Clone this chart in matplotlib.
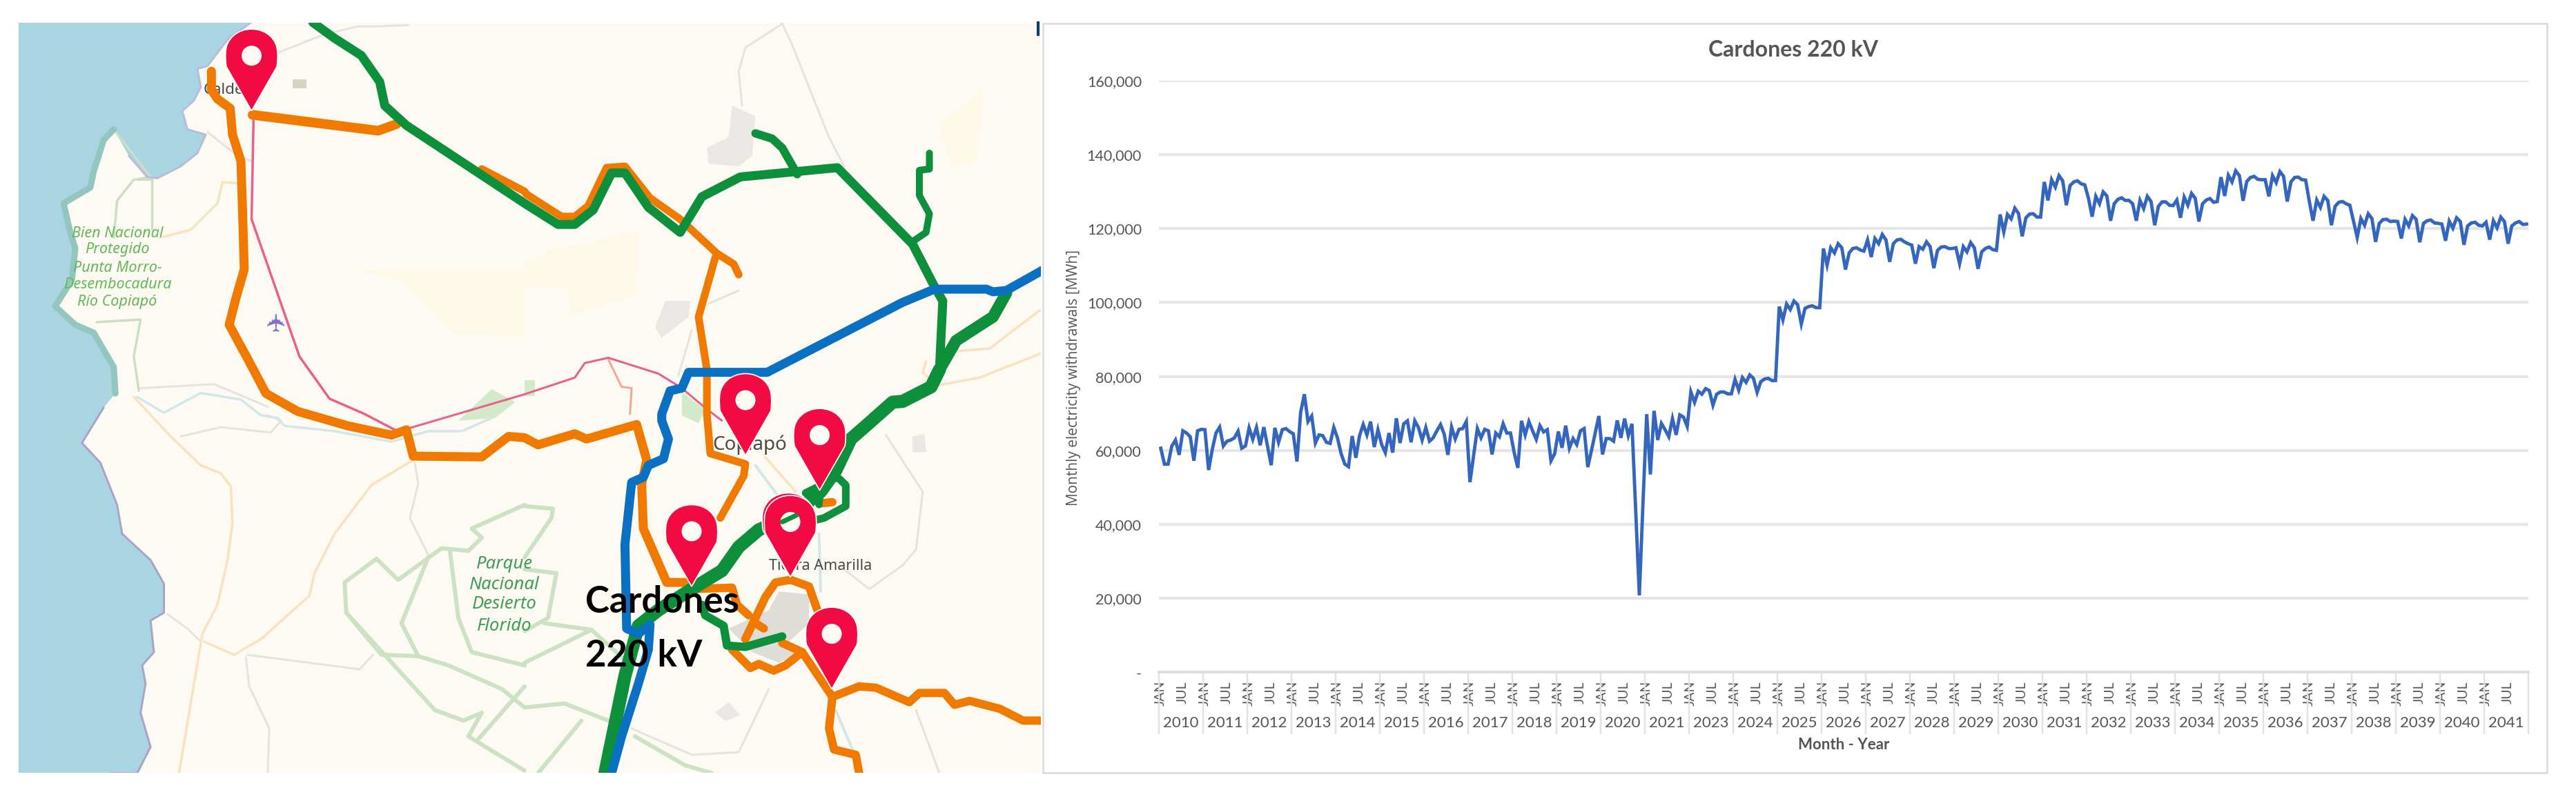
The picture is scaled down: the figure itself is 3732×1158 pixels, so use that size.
import numpy as np
import matplotlib
matplotlib.use("Agg")
import matplotlib.pyplot as plt
from matplotlib.patches import Polygon, Rectangle, PathPatch, Circle
from matplotlib.path import Path
from matplotlib.ticker import FixedLocator, FixedFormatter

# ---------- chart data (MWh, thousands) ----------
years = [2010,2011,2012,2013,2014,2015,2016,2017,2018,2019,2020,2021,2023,2024,2025,2026,
         2027,2028,2029,2030,2031,2032,2033,2034,2035,2036,2037,2038,2039,2040,2041]
v2010 = [60.6,56.3,56.3,61.2,62.8,58.8,65.3,64.7,63.7,57.2,65.3,65.7]
v2011 = [65.6,54.7,60.3,64.7,66.3,61.2,62.5,62.8,63.4,65.2,60.6,61.2]
v2012 = [66.1,63.0,66.2,61.4,66.3,61.2,56.0,66.1,62.2,65.6,65.9,65.1]
v2013 = [64.5,57.0,70.3,75.2,67.8,69.3,62.0,64.2,64.0,62.2,61.9,66.2]
v2014 = [63.4,59.1,56.3,55.6,63.9,58.0,64.0,67.0,64.2,67.8,60.9,65.6]
v2015 = [61.6,59.4,64.7,59.4,68.7,62.0,67.2,68.0,62.2,68.0,66.2,62.8]
v2016 = [66.2,62.5,63.4,65.3,67.0,64.4,58.8,66.3,63.1,65.7,65.9,67.8]
v2017 = [51.4,58.8,65.9,63.4,65.7,65.3,58.9,64.7,63.7,67.2,64.7,64.7]
v2018 = [59.4,55.3,68.0,64.2,67.8,65.3,63.0,66.7,65.0,65.6,57.2,59.1]
v2019 = [65.1,60.7,66.7,60.6,63.2,61.6,65.3,65.9,55.5,60.0,64.7,69.3]
v2020 = [58.9,63.2,63.2,62.5,68.1,63.4,68.6,64.0,67.2,44.0,20.8,46.0]
v2021 = [69.8,53.5,70.7,62.8,67.3,65.6,63.7,68.6,64.2,69.6,69.0,66.5]
v2023 = [75.8,73.0,76.0,75.2,76.7,76.2,72.2,75.2,75.8,75.8,75.3,75.3]
v2024 = [79.2,76.3,79.7,78.4,80.4,79.5,75.7,78.6,79.3,79.5,78.9,78.9]
v2025 = [98.9,95.3,99.6,98.1,100.4,99.4,94.2,98.4,98.9,99.1,98.6,98.6]
v2026 = [114.6,110.1,114.8,113.4,115.9,114.8,108.9,113.4,114.6,114.8,114.2,113.9]
v2027 = [116.9,112.3,117.3,115.9,118.4,116.9,111.0,115.9,116.9,117.1,116.4,115.9]
v2028 = [115.5,110.5,115.1,114.4,116.4,115.1,109.3,114.1,115.0,115.1,114.6,114.6]
v2029 = [114.8,110.5,115.1,113.7,116.2,114.8,109.1,113.7,114.6,115.0,114.3,114.1]
v2030 = [123.8,119.1,123.8,122.6,125.5,124.1,117.9,122.9,123.9,124.0,123.1,123.1]
v2031 = [132.6,127.6,133.2,131.2,134.3,132.9,126.3,131.6,132.6,132.9,132.1,131.8]
v2032 = [128.2,123.2,128.7,126.7,129.9,128.8,122.1,126.7,127.9,128.3,127.6,127.6]
v2033 = [126.7,122.1,127.6,125.4,128.7,127.3,120.9,126.0,127.2,127.2,126.3,126.2]
v2034 = [127.7,122.9,128.5,126.3,129.5,128.2,121.9,126.7,127.7,128.1,127.1,127.3]
v2035 = [133.9,128.8,134.4,132.6,135.6,134.3,127.5,132.7,133.8,134.1,133.3,133.2]
v2036 = [133.2,128.7,134.3,132.4,135.4,134.1,127.3,132.6,133.8,133.9,133.2,133.1]
v2037 = [127.3,122.1,127.7,125.7,128.7,127.6,120.9,126.0,127.1,127.3,126.7,126.3]
v2038 = [122.0,117.6,122.7,120.9,124.0,122.7,116.4,121.4,122.4,122.5,121.9,122.0]
v2039 = [121.9,117.3,122.5,120.7,123.5,122.5,116.3,121.4,122.1,122.3,121.5,121.4]
v2040 = [121.2,116.7,122.0,120.1,122.9,121.9,115.6,120.7,121.5,121.7,120.9,120.7]
v2041 = [121.7,117.0,122.1,120.2,123.1,121.9,115.9,120.7,121.5,121.9,121.1,121.2]
yearly = [v2010,v2011,v2012,v2013,v2014,v2015,v2016,v2017,v2018,v2019,v2020,v2021,v2023,v2024,v2025,v2026,
          v2027,v2028,v2029,v2030,v2031,v2032,v2033,v2034,v2035,v2036,v2037,v2038,v2039,v2040,v2041]
y_ticks = [0,20000,40000,60000,80000,100000,120000,140000,160000]
y_tick_labels = ['-','20,000','40,000','60,000','80,000','100,000','120,000','140,000','160,000']

W, H = 3732, 1158
plt.rcParams['font.family'] = ['Lato', 'DejaVu Sans']
fig = plt.figure(figsize=(W/100, H/100), dpi=100, facecolor='white')

# ---------- map panel, drawn in pixel coordinates ----------
m = fig.add_axes([0, 0, 1, 1], zorder=1)
m.set_xlim(0, W); m.set_ylim(H, 0); m.axis('off')
def z5(p): return [(x*.4847, y*.3827) for x, y in p]
def z6(p): return [(760+x*.4847, y*.3827) for x, y in p]
def z7(p): return [(x*.4847, 560+y*.3814) for x, y in p]
def z8(p): return [(760+x*.4847, 560+y*.3814) for x, y in p]

clip = Rectangle((27, 33), 1481, 1087, transform=m.transData)
m.add_patch(Rectangle((27, 33), 1481, 1087, fc='#FDFAF3', ec='none', zorder=0))

def fill(pts, c, z=1, a=1):
    pg = Polygon(pts, closed=True, fc=c, ec='none', alpha=a, zorder=z); m.add_patch(pg); pg.set_clip_path(clip)
def line(pts, c, lw, z=2, a=1):
    xy = np.array(pts)
    l, = m.plot(xy[:,0], xy[:,1], color=c, lw=lw*.72, zorder=z, alpha=a, solid_joinstyle='round', solid_capstyle='round')
    l.set_clip_path(clip)

coast_n = [(750,85),(680,150),(620,250),(590,260),(600,330),(580,380),(545,420),(560,490),(615,510),(590,580),(540,630),(470,675),(440,670),(385,590),(340,490),(310,530),(280,650),(270,710),(190,770),(210,880),(225,940),(215,1060),(165,1160),(225,1230),(280,1260),(340,1390),(345,1490)]
coast_s = [(310,80),(245,215),(300,290),(350,450),(365,560),(450,660),(490,750),(490,860),(450,890),(460,1010),(425,1060),(435,1130),(420,1240),(450,1370),(410,1470),(330,1470)]
coast = z5(coast_n) + z7(coast_s)
sea = [(27,1120),(27,33)] + coast
fill(sea, '#A9D5E2', 1)
line(z5(coast_n[14:]), '#92C6BE', 9, 1.5)
line(z5(coast_n[:14]), '#B9BCD8', 3, 1.5)
line(z7(coast_s), '#A9A3C8', 3, 1.5)

# pale sand patches
sand = '#FEF9E7'
fill(z5([(1050,1020),(1568,1020),(1568,1280),(1350,1260),(1200,1060)]), sand, 1.1)
fill(z6([(0,1000),(70,950),(340,880),(330,1120),(140,1190),(130,1080),(0,1090)]), sand, 1.1)
fill(z6([(1240,470),(1370,340),(1350,600),(1280,640)]), sand, 1.1)
# urban patches
g = '#E9E8E5'
fill(z6([(620,400),(690,440),(680,590),(640,630),(550,620),(545,560),(610,520)]), g, 1.2)
fill(z6([(420,1140),(495,1140),(490,1200),(410,1280),(390,1240)]), g, 1.2)
fill(z8([(760,780),(850,790),(850,900),(790,970),(830,1010),(760,1050),(680,1010),(610,920),(730,850)]), '#DEDDD8', 1.2)
fill(z8([(1160,190),(1195,180),(1200,250),(1160,250)]), g, 1.2)
fill(z8([(570,1240),(610,1200),(645,1250),(600,1270)]), g, 1.2)
fill(z5([(875,300),(915,300),(915,335),(875,335)]), '#D5D5C2', 1.2)
# green patches
lg = '#D3EACA'
fill(z6([(0,1440),(30,1440),(30,1500),(0,1500)]), lg, 1.2)
fill(z8([(470,20),(540,90),(520,140),(470,110)]), lg, 1.2)
fill(z7([(1370,130),(1470,10),(1540,60),(1480,120)]), lg, 1.2)

# grey tracks
for pts in [z6([(770,90),(800,170),(850,330),(910,520),(955,630)]),
            z6([(770,90),(660,180),(640,270),(650,400)]),
            z5([(830,200),(970,130),(1070,100),(1130,100),(1220,95)]),
            z5([(620,500),(700,580),(750,610)]),
            z5([(420,1470),(640,1455),(800,1540)]),
            z7([(1240,290),(1250,370),(1225,500),(1280,640)]),
            z7([(500,865),(560,920),(600,970)]),
            z7([(740,1020),(1075,1075),(1115,1020)]),
            z7([(735,1030),(745,1140),(805,1300),(800,1470)]),
            z7([(540,190),(660,155),(810,175),(840,130),(800,110)]),
            z8([(1080,185),(1190,400),(1170,620),(1130,680),(1030,770),(960,700)]),
            z8([(320,1300),(500,1400),(640,1390),(730,1150)]),
            z8([(1170,1230),(1240,1470)]),
            z6([(640,1100),(550,1150)]), z6([(500,1250),(460,1420)])]:
    line(pts, '#E4E3E0', 3, 1.3)
# river
line(z7([(410,40),(490,100),(600,25),(720,50),(780,110),(830,120),(850,150),(1000,170),(1170,210),(1280,170),(1380,170),(1470,120)]), '#D3E7EA', 3.5, 1.4)
line(z8([(690,300),(760,420)]), '#D3E7EA', 4, 1.4)
line(z8([(880,560),(885,780)]), '#D3E7EA', 4, 1.4)
line(z8([(930,1230),(980,1380)]), '#D3E7EA', 4, 1.4)
# protected areas
pg_c = '#CDE1C5'
for pts in [z7([(1030,745),(1125,655),(1190,735),(1320,615),(1400,625),(1440,575),(1410,540),(1568,450)]) + z8([(0,455),(85,465),(80,500),(0,650)]),
            z7([(1030,745),(1035,860),(1140,1020),(1250,1025),(1340,1060),(1500,1150),(1568,1220)]) + z8([(0,1220),(120,1205),(250,1270)]),
            z7([(1035,860),(1300,1230),(1385,1270),(1440,1240),(1400,1330),(1568,1460)]),
            z7([(1345,625),(1370,880),(1410,1010),(1568,1060)]) + z8([(0,1050),(200,925),(60,900)]),
            z7([(1280,650),(1200,900),(1250,1025)]),
            z7([(1568,1140),(1430,1340)]),
            z8([(0,695),(95,710),(70,880),(0,930)]),
            z8([(200,925),(300,1040)]),
            z8([(170,1270),(40,1470)]),
            z8([(330,1330),(480,1440),(560,1470)])]:
    line(pts, pg_c, 6, 1.35)
for pts in [z5([(340,490),(450,670),(405,680),(455,680),(455,870)]),
            z5([(400,680),(350,760),(340,900)]),
            z5([(290,1220),(420,1210),(400,1350),(415,1480)])]:
    line(pts, '#CEDDC6', 3.5, 1.35)
# light roads
lr = '#F9E2C0'
for pts in [z7([(400,40),(510,190),(600,300),(660,330),(690,380),(695,520),(680,660),(650,830),(605,940),(535,1470)]),
            z7([(1235,280),(1110,375),(1000,560),(940,710),(925,795),(780,960),(700,1020),(610,970)]),
            z5([(480,900),(570,870),(650,770),(665,690),(725,695)]),
            z6([(1230,1460),(1360,1430),(1540,1340)]),
            z6([(1290,1330),(1390,1320),(1540,1175)]),
            z6([(1200,1370),(1190,1410),(1230,1460)]),
            z8([(720,270),(810,400)])]:
    line(pts, lr, 3.5, 1.4)

# pink line
pink = '#E8608C'
line(z5([(758,440),(752,830),(895,1350),(985,1510),(1090,1568)]) + z7([(1180,165)]), pink, 3.5, 2)
line(z7([(1220,160),(1568,30)]) + z6([(150,1430),(180,1375),(250,1355),(400,1415),(470,1470),(540,1545)]) + z8([(590,130)]), pink, 3, 2)
line(z6([(250,1360),(290,1465),(320,1470),(315,1568)]), '#F2A79A', 3, 1.9)

# orange lines
org = '#F07A00'
line(z5([(632,270),(632,340),(650,375),(688,410),(695,510),(720,610),(725,800),(730,1020),(705,1130),(685,1230),(745,1370),(795,1490)]) +
     z7([(890,95),(1040,150),(1170,185),(1215,165),(1235,265),(1440,268),(1520,190)]) +
     z8([(0,195),(40,222),(150,180),(185,200),(335,145),(365,280),(350,370),(355,540),(425,745),(500,745)]), org, 13, 3)
line(z5([(755,435),(1130,495),(1185,470)]), org, 14, 3)
line(z5([(1440,640),(1568,725)]) + z6([(5,735),(110,820),(150,820),(190,780),(245,635),(300,630),(375,750),(465,830),(575,960),(625,1000),(640,1040)]), org, 11, 3)
line(z6([(570,975),(520,1200),(545,1400),(545,1568)]) + z8([(555,255),(660,295),(655,340),(585,500)]), org, 11, 3)
line(z8([(500,770),(620,765),(635,830),(670,870)]), org, 12, 3)
line(z8([(660,960),(720,800),(750,745),(795,735),(850,760),(875,850)]), org, 12, 3)
line(z8([(690,900),(715,920)]), org, 12, 3)
line(z8([(770,975),(830,1010),(920,1180),(1000,1140),(1050,1145),(1150,1200),(1180,1165),(1255,1165),(1285,1210),(1330,1195),(1420,1225),(1490,1270),(1560,1270)]), org, 12, 3)
line(z8([(920,1180),(910,1300),(925,1380),(990,1400),(1000,1470)]), org, 12, 3)
line(z8([(620,1000),(675,1070),(700,1055),(745,1080),(780,1060),(830,1010)]), org, 12, 3)
line(z8([(880,445),(920,440)]), org, 12, 3)

# green lines
grn = '#0E8F3C'
line(z5([(935,85),(1000,145),(1080,210),(1135,310),(1150,400),(1215,475),(1568,770)]) +
     z6([(100,850),(150,850),(205,795),(260,655),(300,655),(370,785),(465,880),(530,745),(645,670),(935,635),(1160,925),(1225,1085),(1250,1140),(1240,1400)]), grn, 13, 4)
line(z6([(1240,1400),(1215,1465),(1130,1520)]) + z8([(1100,60),(1020,150),(975,200),(930,320),(885,400),(800,490),(700,545),(640,610),(590,700),(500,770),(400,850),(340,910),(300,1100),(240,1470)]), grn, 19, 4)
line(z6([(1440,1110),(1400,1200),(1290,1290),(1240,1400)]), grn, 17, 4)
line(z6([(690,505),(740,525),(770,560),(815,660)]), grn, 12, 4)
line(z6([(1210,580),(1210,640),(1180,645),(1180,740),(1210,810),(1200,880),(1160,915)]), grn, 10, 4)
line(z8([(840,405),(935,345),(960,375),(960,455),(895,500),(830,520)]), grn, 11, 4)
line(z8([(880,450),(885,400)]), grn, 10, 4)
line(z8([(530,830),(540,870),(595,910),(605,985),(660,990),(770,950)]), grn, 12, 4)

# blue line
blu = '#0A70C2'
line(z6([(1560,1015),(1440,1100),(1400,1105),(1380,1095),(1225,1095),(1130,1145),(725,1410),(490,1410),(470,1470),(435,1480),(410,1568)]) +
     z8([(410,130),(430,200),(415,275),(370,300),(355,345),(320,365),(300,600),(305,920),(340,940),(375,905),(370,1000),(340,1130),(290,1330),(260,1470)]), blu, 13, 5)

# place names
gt = '#4A4A4A'
nf = ['Noto Sans', 'DejaVu Sans']
m.text(335, 130, 'Caldera', fontsize=16, color=gt, ha='center', va='center', family=nf, zorder=2.5)
m.text(1086, 645, 'Copiapó', fontsize=20, color=gt, ha='center', va='center', family=nf, zorder=2.5)
m.text(1189, 820, 'Tierra Amarilla', fontsize=15.5, color=gt, ha='center', va='center', family=nf, zorder=2.5)
for t, yy in zip(['Bien Nacional','Protegido','Punta Morro-','Desembocadura','Río Copiapó'], [339,362,388,413,438]):
    m.text(170, yy, t, fontsize=15.5, style='italic', color='#66B85C', ha='center', va='center', family=nf, zorder=2.5)
for t, yy in zip(['Parque','Nacional','Desierto','Florido'], [817,848,876,907]):
    m.text(731, yy, t, fontsize=18.5, style='italic', color='#3F9E55', ha='center', va='center', family=nf, zorder=2.5)
m.text(402, 465, '\u2708', fontsize=26, color='#7E6FCB', rotation=90, ha='center', va='center', family='DejaVu Sans', zorder=2.5)

# pins
def pin(tx, ty, z=6, hole=True):
    r = 37.5; cy = ty - 80
    verts = [(tx, ty), (tx-r+1, cy+16), (tx-r-1, cy+6), (tx-r, cy-4), (tx-r, cy-24), (tx-21, cy-r-1), (tx, cy-r-1),
             (tx+21, cy-r-1), (tx+r, cy-24), (tx+r, cy-4), (tx+r+1, cy+6), (tx+r-1, cy+16), (tx, ty)]
    codes = [Path.MOVETO, Path.LINETO, Path.CURVE3, Path.CURVE3, Path.CURVE4, Path.CURVE4, Path.CURVE4,
             Path.CURVE4, Path.CURVE4, Path.CURVE4, Path.CURVE3, Path.CURVE3, Path.LINETO]
    m.add_patch(PathPatch(Path(verts, codes), fc='#F20A43', ec='white', lw=1.2, zorder=z))
    if hole:
        m.add_patch(Circle((tx, cy), 14.5, fc='#FEFBF5', ec='none', zorder=z+.1))
pin(1142, 833, 6)
for tx, ty in [(364.5,160.7),(1080,660),(1187.5,710.6),(1002,850),(1145,836.5),(1205,998.6)]:
    pin(tx, ty, 6.2)
line(z8([(770,515),(812,490)]), grn, 7, 7)

m.text(848, 872, 'Cardones', fontsize=38, color='black', ha='left', va='center', family=['Lato'], weight='bold', zorder=8)
m.text(848, 950, '220 kV', fontsize=38, color='black', ha='left', va='center', family=['Lato'], weight='bold', zorder=8)

# chart panel frame
m.plot([1504,1504],[33,50], color='#0F3F66', lw=3, zorder=8)
m.add_patch(Rectangle((1511,34),2179,1086, fc='white', ec='#DADADA', lw=1.8, zorder=8.5))

# ---------- chart ----------
L, R, T, B = 1679, 3663, 116.8, 974.4
ax = fig.add_axes([L/W, 1-B/H, (R-L)/W, (B-T)/H], zorder=2)
ax.patch.set_alpha(0)
values = np.concatenate(yearly) * 1000
months = np.arange(len(values))
ax.plot(months, values, color='#3566BE', lw=3.5, solid_joinstyle='miter', zorder=3)
ax.set_xlim(-0.5, len(values)-0.5)
ax.set_ylim(0, 160000)
for s in ['top','right','left']:
    ax.spines[s].set_visible(False)
ax.spines['bottom'].set_color('#DDDDDD'); ax.spines['bottom'].set_linewidth(2.8)
ax.yaxis.set_major_locator(FixedLocator(y_ticks))
ax.yaxis.set_major_formatter(FixedFormatter(y_tick_labels))
ax.tick_params(axis='y', length=0, pad=18, labelsize=15.5, labelcolor='#555555')
ax.yaxis.grid(True, color='#E6E6E6', lw=3.0, zorder=1)
ax.set_axisbelow(True)
ticks, labs = [], []
for i in range(len(years)):
    ticks += [12*i, 12*i+6]; labs += ['JAN', 'JUL']
ax.set_xticks(ticks); ax.set_xticklabels(labs, rotation=90, fontsize=14, color='#595959')
ax.tick_params(axis='x', length=0, pad=9)
trans = ax.get_xaxis_transform()
for i, yr in enumerate(years):
    ax.plot([12*i-.5]*2, [0, -89/(B-T)], transform=trans, clip_on=False, color='#E2E2E2', lw=1.6)
    ax.annotate(str(yr), xy=(12*i+5.5, 0), xycoords=trans, xytext=(0, -74), textcoords='offset pixels',
                ha='center', va='center', fontsize=16, color='#555555', annotation_clip=False)
ax.plot([len(values)-.5]*2, [0, -89/(B-T)], transform=trans, clip_on=False, color='#E2E2E2', lw=1.6)
fig.text(2671/W, 1-1080/H, 'Month - Year', fontsize=16, color='#555555', weight='bold', ha='center', va='center', zorder=9)
fig.text(1556/W, 1-547/H, 'Monthly electricity withdrawals [MWh]', fontsize=15, color='#555555', rotation=90, ha='center', va='center', family=['Open Sans'], zorder=9)
fig.text(2598/W, 1-72/H, 'Cardones 220 kV', fontsize=23, color='#555555', weight='bold', ha='center', va='center', zorder=9)

fig.savefig('out.png', dpi=100, facecolor='white')
